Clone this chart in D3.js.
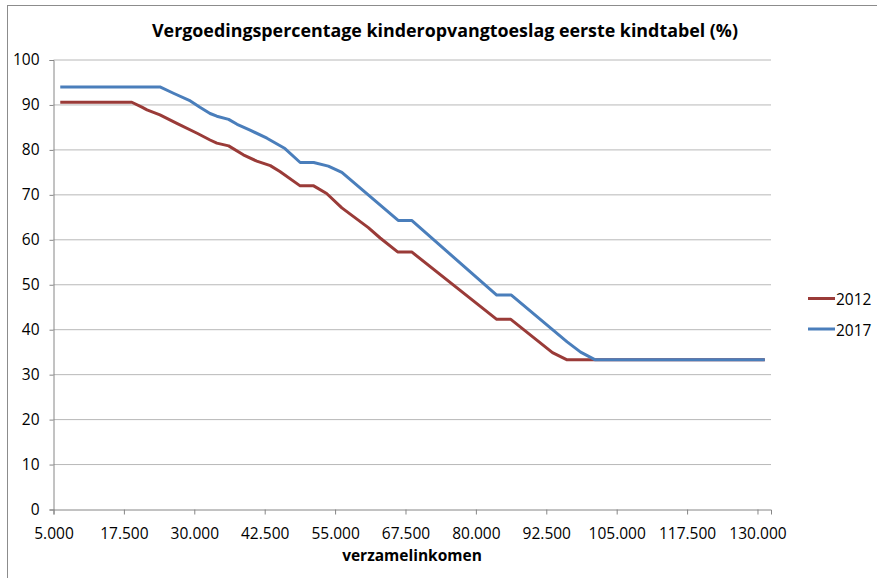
<!DOCTYPE html>
<html>
<head>
<meta charset="utf-8">
<script src="https://cdn.jsdelivr.net/npm/d3@7"></script>
<style>
  body { margin: 0; background: #fff; }
  svg { display: block; font-family: 'Open Sans', sans-serif; }
</style>
</head>
<body>
<svg id="canvas" width="877" height="578"></svg>
<script>
// values
const years = ['2012', '2017']
const incomes2012 = [6200, 18900, 20700, 21600, 23900, 26900, 30500, 32800, 34000, 36100, 38700, 41100, 43500, 45200, 48800, 51200, 53500, 56200, 60900, 63000, 66100, 68600, 83700, 86200, 93600, 96200, 131300]
const pct2012 = [90.6, 90.6, 89.5, 88.9, 87.8, 85.9, 83.7, 82.2, 81.5, 80.9, 78.9, 77.5, 76.5, 75.2, 72.0, 72.0, 70.3, 67.1, 62.7, 60.4, 57.3, 57.3, 42.3, 42.3, 34.9, 33.3, 33.3]
const incomes2017 = [6200, 23900, 26300, 29300, 31000, 32800, 34000, 36100, 37600, 39900, 42900, 46100, 48800, 51200, 53800, 56200, 66200, 68600, 83700, 86300, 96200, 98600, 101200, 131300]
const pct2017 = [94.0, 94.0, 92.6, 90.9, 89.5, 88.1, 87.5, 86.8, 85.7, 84.4, 82.6, 80.3, 77.2, 77.2, 76.4, 75.0, 64.3, 64.3, 47.7, 47.7, 37.3, 35.0, 33.3, 33.3]
const xTicks = [5000, 17500, 30000, 42500, 55000, 67500, 80000, 92500, 105000, 117500, 130000]
const yTicks = [0, 10, 20, 30, 40, 50, 60, 70, 80, 90, 100]

const svg = d3.select('#canvas')
const colors = ['#9a3b38', '#4a7ebb']

const plot = { left: 53.5, right: 771, top: 60, bottom: 509.5 }

const x = d3.scaleLinear().domain([5000, 132400]).range([plot.left, plot.right])
const y = d3.scaleLinear().domain([0, 100]).range([plot.bottom, plot.top])

const nl = d3.formatLocale({ decimal: ',', thousands: '.', grouping: [3], currency: ['€', ''] })
const fmt = nl.format(',.0f')

// outer chart border (runs off the picture on the right and bottom)
svg.append('rect')
    .attr('x', 7.5).attr('y', 5.5)
    .attr('width', 900).attr('height', 600)
    .attr('fill', 'none')
    .attr('stroke', '#8c8c8c')

svg.append('text')
    .attr('x', 445).attr('y', 37)
    .attr('text-anchor', 'middle')
    .attr('font-size', 18)
    .attr('font-weight', 'bold')
    .attr('textLength', 586)
    .attr('lengthAdjust', 'spacingAndGlyphs')
    .text('Vergoedingspercentage kinderopvangtoeslag eerste kindtabel (%)')

// horizontal gridlines
svg.append('g')
    .selectAll('line')
    .data(yTicks.filter(d => d > 0))
    .enter()
    .append('line')
    .attr('x1', plot.left).attr('x2', plot.right)
    .attr('y1', d => y(d)).attr('y2', d => y(d))
    .attr('stroke', '#b8b8b8')
    .attr('stroke-width', 1)

const yAxis = svg.append('g')
    .attr('transform', `translate(${plot.left},0)`)
    .call(d3.axisLeft(y).tickValues(yTicks).tickSize(4).tickPadding(10))
const xAxis = svg.append('g')
    .attr('transform', `translate(0,${plot.bottom})`)
    .call(d3.axisBottom(x).tickValues(xTicks).tickFormat(fmt).tickSize(5).tickPadding(13))

;[yAxis, xAxis].forEach(ax => {
    ax.selectAll('path, line').attr('stroke', '#868686')
    ax.selectAll('text')
        .attr('font-size', 15.5)
        .attr('fill', '#000')
        .attr('font-family', "'Open Sans', sans-serif")
})

svg.append('text')
    .attr('x', 412).attr('y', 561)
    .attr('text-anchor', 'middle')
    .attr('font-size', 15.5)
    .attr('font-weight', 'bold')
    .text('verzamelinkomen')

const series = [
    incomes2012.map((v, i) => [v, pct2012[i]]),
    incomes2017.map((v, i) => [v, pct2017[i]])
]

const line = d3.line().x(d => x(d[0])).y(d => y(d[1]))

svg.append('g')
    .selectAll('path')
    .data(series)
    .enter()
    .append('path')
    .attr('d', line)
    .attr('fill', 'none')
    .attr('stroke', (d, i) => colors[i])
    .attr('stroke-width', 3)
    .attr('stroke-linejoin', 'round')

// legend
const legend = svg.append('g')
    .selectAll('g')
    .data(years)
    .enter()
    .append('g')
    .attr('transform', (d, i) => `translate(808,${298.5 + i * 30.5})`)

legend.append('line')
    .attr('x1', 0).attr('x2', 27)
    .attr('stroke', (d, i) => colors[i])
    .attr('stroke-width', 3)
legend.append('text')
    .attr('x', 28).attr('y', 6.5)
    .attr('font-size', 15.5)
    .text(d => d)
</script>
</body>
</html>
